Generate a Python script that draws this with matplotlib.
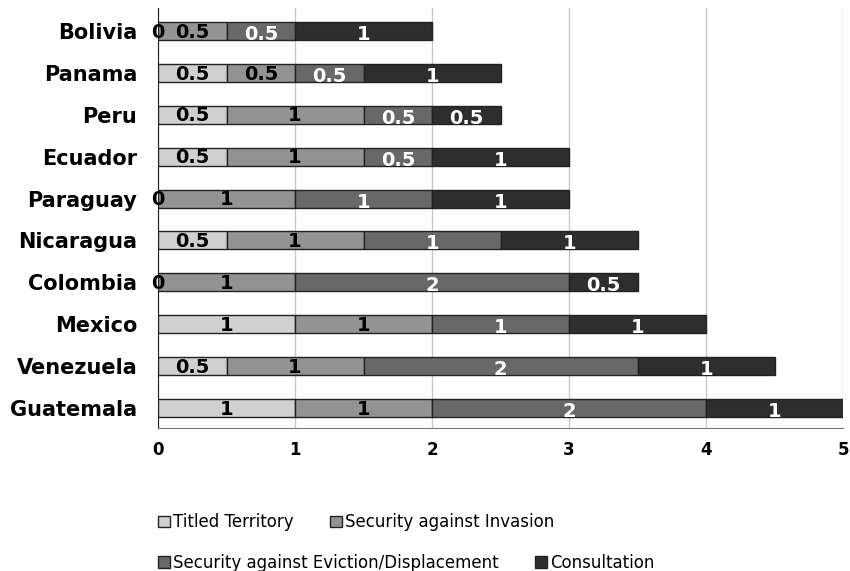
import numpy as np
import matplotlib.pyplot as plt
from matplotlib.patches import Patch

countries = ["Guatemala", "Venezuela", "Mexico", "Colombia", "Nicaragua",
             "Paraguay", "Ecuador", "Peru", "Panama", "Bolivia"]
titled = [1, 0.5, 1, 0, 0.5, 0, 0.5, 0.5, 0.5, 0]
invasion = [1, 1, 1, 1, 1, 1, 1, 1, 0.5, 0.5]
eviction = [2, 2, 1, 2, 1, 1, 0.5, 0.5, 0.5, 0.5]
consultation = [1, 1, 1, 0.5, 1, 1, 1, 0.5, 1, 1]

series = [
    ("Titled Territory", titled, "#d0d0d0", "black"),
    ("Security against Invasion", invasion, "#939393", "black"),
    ("Security against Eviction/Displacement", eviction, "#686868", "white"),
    ("Consultation", consultation, "#2e2e2e", "white"),
]

plt.rcParams["font.family"] = ["DejaVu Sans"]

fig = plt.figure(figsize=(8.5, 5.71), dpi=100)
ax = fig.add_axes([0.186, 0.2504, 0.806, 0.7356])

y = np.arange(len(countries))
left = np.zeros(len(countries))
handles = []
for name, vals, color, txt_color in series:
    vals = np.array(vals, dtype=float)
    ax.barh(y, vals, left=left, height=0.43, color=color,
            edgecolor="#222222", linewidth=1.0, zorder=3)
    for yi, l, v in zip(y, left, vals):
        # white labels sit a little lower than the black ones
        dy = -2.5 if txt_color == "white" else -0.8
        ax.annotate(f"{v:g}", (l + v / 2, yi), xytext=(0, dy),
                    textcoords="offset points", ha="center", va="center",
                    fontsize=14, fontweight="bold", color=txt_color, zorder=4)
    left += vals
    handles.append(Patch(facecolor=color, edgecolor="#222222", linewidth=1.0, label=name))

ax.set_xlim(0, 5)
ax.set_ylim(-0.48, 9.55)
ax.set_xticks([0, 1, 2, 3, 4, 5])
ax.set_yticks(y)
ax.set_yticklabels(countries, fontsize=15, fontweight="bold")
ax.tick_params(axis="x", labelsize=12, length=0, pad=9)
ax.tick_params(axis="y", length=0, pad=15)
for lbl in ax.get_xticklabels():
    lbl.set_fontweight("bold")
ax.grid(axis="x", color="#c8c8c8", linewidth=1.0, zorder=0)
for side in ["top", "right"]:
    ax.spines[side].set_visible(False)
ax.spines["left"].set_color("#222222")
ax.spines["bottom"].set_color("#777777")

legend_kw = dict(frameon=False, fontsize=12, handlelength=0.7, handleheight=0.7,
                 handletextpad=0.2, columnspacing=2.2, borderaxespad=0, ncol=2,
                 loc="center left")
fig.legend(handles=handles[:2], bbox_to_anchor=(0.178, 0.085), **legend_kw)
fig.legend(handles=handles[2:], bbox_to_anchor=(0.178, 0.014), **legend_kw)

fig.savefig("out.png", dpi=100)
